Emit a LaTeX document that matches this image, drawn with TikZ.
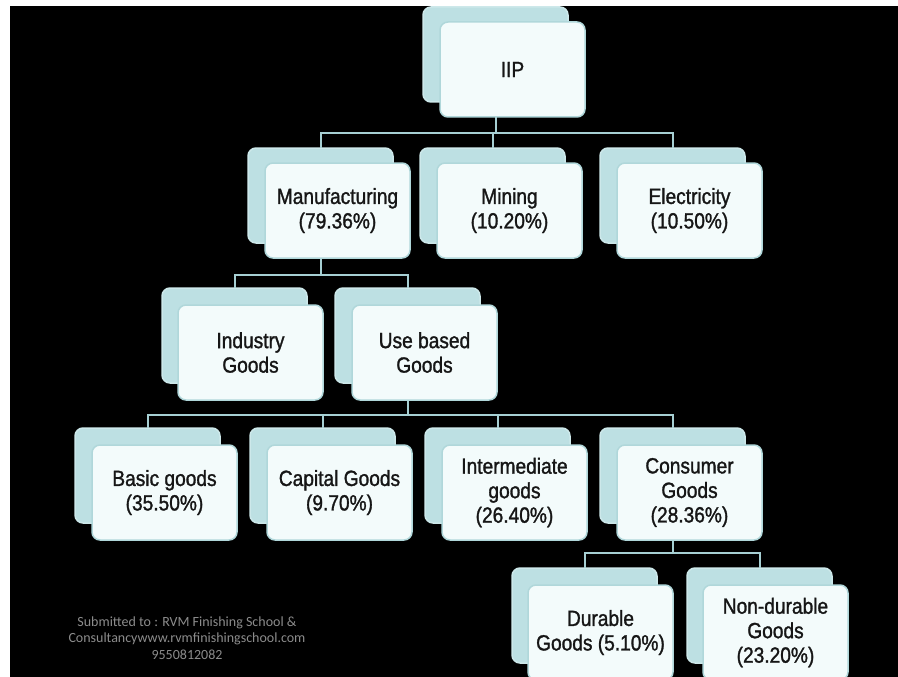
\documentclass[tikz,border=0pt]{standalone}
\usepackage{fontspec}
\setmainfont{Liberation Sans}[FakeStretch=0.87,FakeBold=1.3]
\newfontfamily\footfont{Carlito}
\definecolor{backfill}{HTML}{BDE0E3}
\definecolor{backline}{HTML}{CDE8EA}
\definecolor{frontfill}{HTML}{F3FBFB}
\definecolor{frontline}{HTML}{B0D7DA}
\definecolor{connline}{HTML}{A6CFD3}
\definecolor{textcol}{HTML}{161616}
\definecolor{footcol}{HTML}{8C8C8C}
\begin{document}
\begin{tikzpicture}[x=1pt,y=-1pt,
  backbox/.style={draw=backline, fill=backfill, line width=1.5pt, rounded corners=8pt,
    minimum width=145pt, minimum height=95pt, anchor=north west, inner sep=0pt, outer sep=0pt},
  frontbox/.style={draw=frontline, fill=frontfill, line width=1.5pt, rounded corners=8pt,
    minimum width=145pt, minimum height=95pt, anchor=north west, inner sep=0pt, outer sep=0pt,
    align=center, font=\fontsize{22}{24.5}\selectfont, text=textcol},
  conn/.style={draw=connline, line width=2pt},
  foottext/.style={font=\footfont\fontsize{14}{16.5}\selectfont, text=footcol, align=center}]
\useasboundingbox (0,0) rectangle (898,677);
\clip (0,0) rectangle (898,677);
\fill[white] (0,0) rectangle (898,677);
\fill[black] (10,6) rectangle (898,677);

% back boxes
\node[backbox] (iipB) at (423,7) {};
\node[backbox] (manB) at (248,148) {};
\node[backbox] (minB) at (420,148) {};
\node[backbox] (eleB) at (600,148) {};
\node[backbox] (indB) at (162,288) {};
\node[backbox] (useB) at (335,288) {};
\node[backbox] (basB) at (75,428) {};
\node[backbox] (capB) at (250,428) {};
\node[backbox] (intB) at (425,428) {};
\node[backbox] (conB) at (600,428) {};
\node[backbox] (durB) at (512,568) {};
\node[backbox] (nonB) at (687,568) {};

% connectors
\draw[conn] (iipB.south) |- ([yshift=15pt]manB.north) -- (manB.north);
\draw[conn] (iipB.south) |- ([yshift=15pt]minB.north) -- (minB.north);
\draw[conn] (iipB.south) |- ([yshift=15pt]eleB.north) -- (eleB.north);
\draw[conn] (manB.south) |- ([yshift=13pt]indB.north) -- (indB.north);
\draw[conn] (manB.south) |- ([yshift=13pt]useB.north) -- (useB.north);
\draw[conn] (useB.south) |- ([yshift=13pt]basB.north) -- (basB.north);
\draw[conn] (useB.south) |- ([yshift=13pt]capB.north) -- (capB.north);
\draw[conn] (useB.south) |- ([yshift=13pt]intB.north) -- (intB.north);
\draw[conn] (useB.south) |- ([yshift=13pt]conB.north) -- (conB.north);
\draw[conn] (conB.south) |- ([yshift=15pt]durB.north) -- (durB.north);
\draw[conn] (conB.south) |- ([yshift=15pt]nonB.north) -- (nonB.north);

% front boxes
\node[frontbox] (iip) at (440,22) {IIP};
\node[frontbox] (man) at (265,163) {Manufacturing\\(79.36\%)};
\node[frontbox] (min) at (437,163) {Mining\\(10.20\%)};
\node[frontbox] (ele) at (617,163) {Electricity\\(10.50\%)};
\node[frontbox] (ind) at (178,305) {Industry\\Goods};
\node[frontbox] (use) at (352,305) {Use based\\Goods};
\node[frontbox] (bas) at (92,445) {Basic goods\\(35.50\%)};
\node[frontbox] (cap) at (267,445) {Capital Goods\\(9.70\%)};
\node[frontbox] (int) at (442,445) {Intermediate\\goods\\(26.40\%)};
\node[frontbox] (con) at (617,445) {Consumer\\Goods\\(28.36\%)};
\node[frontbox] (dur) at (528,585) {Durable\\Goods (5.10\%)};
\node[frontbox] (non) at (703,585) {Non-durable\\Goods\\(23.20\%)};

% footer
\node[foottext] (foot) at (187,638) {Submitted to : RVM Finishing School \&\\Consultancywww.rvmfinishingschool.com\\9550812082};
\end{tikzpicture}
\end{document}
